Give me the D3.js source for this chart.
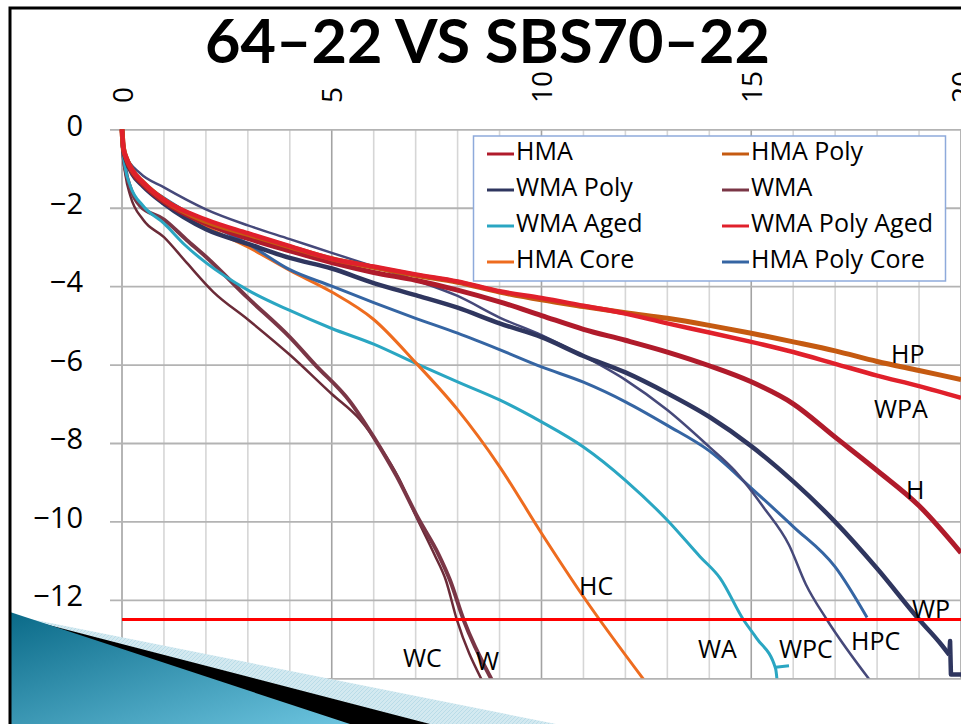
<!DOCTYPE html>
<html>
<head>
<meta charset="utf-8">
<script src="https://cdn.jsdelivr.net/npm/d3@7"></script>
<style>
  html, body { margin: 0; padding: 0; background: #fff; overflow: hidden; }
  svg { display: block; }
  text { font-family: "Open Sans", "Noto Sans", sans-serif; fill: #000; }
</style>
</head>
<body>
<div id="chart"></div>
<script>
// ---- data ----
const chartTitle = "64\u201322 VS SBS70\u201322";
const xTicks = [0, 5, 10, 15, 20];
const yTicks = [0, -2, -4, -6, -8, -10, -12, -14];
const limitLine = -12.5;

const hma = [[0,0],[0.03,-0.45],[0.1,-0.75],[0.25,-1.1],[0.5,-1.4],[1,-1.85],[2,-2.4],[3,-2.78],[4,-3.1],[5,-3.4],[6,-3.65],[7,-3.85],[8,-4.1],[9,-4.4],[10,-4.75],[11,-5.1],[12,-5.38],[13,-5.68],[14,-6.03],[15,-6.44],[16,-7.0],[17,-7.85],[18,-8.7],[19,-9.6],[20,-10.8]];
const hmaPoly = [[0,0],[0.03,-0.45],[0.1,-0.72],[0.25,-1.05],[0.5,-1.35],[1,-1.8],[2,-2.35],[3,-2.68],[4,-3.0],[5,-3.3],[6,-3.52],[7,-3.72],[8,-3.9],[9,-4.15],[10,-4.35],[11,-4.52],[12,-4.68],[13,-4.82],[14,-5.0],[15,-5.2],[16,-5.42],[17,-5.65],[18,-5.92],[19,-6.15],[20,-6.38]];
const wmaPoly = [[0,0],[0.03,-0.5],[0.1,-0.8],[0.25,-1.15],[0.5,-1.45],[1,-1.9],[2,-2.55],[3,-2.92],[4,-3.28],[5,-3.55],[6,-3.92],[7,-4.23],[8,-4.55],[9,-4.95],[10,-5.3],[11,-5.78],[12,-6.2],[13,-6.73],[14,-7.33],[15,-8.08],[16,-8.98],[17,-10.01],[18,-11.2],[19,-12.5],[19.5,-13.1],[19.72,-13.4]];
const wmaPolyTail = [[19.72,-13.4],[19.74,-13.05],[19.76,-13.9],[20,-13.9]];
const wma = [[0,0],[0.02,-0.5],[0.08,-1.0],[0.2,-1.5],[0.43,-1.95],[1,-2.3],[1.54,-2.82],[2,-3.25],[3,-4.3],[4,-5.3],[4.6,-6.0],[5.44,-6.95],[6,-7.85],[6.55,-8.85],[7.05,-9.9],[7.55,-10.85],[7.82,-11.5],[8.14,-12.5],[8.82,-14.05]];
const wmaAged = [[0,0],[0.02,-0.5],[0.08,-1.0],[0.2,-1.45],[0.5,-1.95],[1,-2.4],[1.5,-2.95],[2,-3.4],[3,-4.1],[4,-4.62],[5,-5.08],[6,-5.48],[7,-5.97],[8,-6.44],[9,-6.9],[10,-7.46],[11,-8.1],[12,-8.95],[13,-9.97],[13.78,-10.9],[14.26,-11.45],[14.81,-12.5],[15.13,-12.98],[15.58,-13.75],[15.62,-14.1]];
const wmaAgedTail = [[15.58,-13.72],[15.9,-13.68]];
const wmaPolyAged = [[0,0],[0.03,-0.45],[0.1,-0.72],[0.25,-1.05],[0.5,-1.35],[1,-1.8],[2,-2.3],[3,-2.65],[4,-2.98],[5,-3.3],[6,-3.5],[7,-3.7],[8,-3.88],[9,-4.13],[10,-4.3],[11,-4.5],[12,-4.7],[13,-4.95],[14,-5.18],[15,-5.42],[16,-5.68],[17,-5.98],[18,-6.28],[19,-6.55],[20,-6.85]];
const hmaCore = [[0,0],[0.03,-0.45],[0.1,-0.75],[0.25,-1.1],[0.5,-1.42],[1,-1.82],[2,-2.48],[3,-3.0],[4,-3.6],[5,-4.15],[6,-4.85],[7,-5.95],[8,-7.15],[9,-8.6],[10,-10.3],[11,-11.92],[12.45,-14.05]];
const hmaPolyCore = [[0,0],[0.03,-0.45],[0.1,-0.75],[0.25,-1.1],[0.5,-1.38],[1,-1.75],[2,-2.38],[3,-2.92],[4,-3.58],[5,-4.0],[6,-4.42],[7,-4.82],[8,-5.2],[9,-5.62],[10,-6.06],[11,-6.45],[12,-6.95],[13,-7.55],[14,-8.2],[15,-9.15],[16,-10.13],[17,-11.16],[17.76,-12.45]];
const wmaPolyCore = [[0,0],[0.03,-0.45],[0.11,-0.7],[0.43,-1.12],[1,-1.48],[2,-2.04],[3,-2.45],[4,-2.8],[5,-3.15],[6,-3.5],[7,-3.85],[8,-4.25],[9,-4.8],[10,-5.25],[11,-5.78],[12,-6.39],[13,-7.16],[14,-8.1],[14.6,-8.7],[15.3,-9.65],[15.9,-10.6],[16.3,-11.6],[16.8,-12.5],[17.83,-14.05]];
const wmaCore = [[0,0],[0.02,-0.6],[0.08,-1.15],[0.2,-1.7],[0.5,-2.3],[1,-2.75],[1.54,-3.4],[2.18,-4.15],[3,-4.85],[4,-5.75],[5,-6.75],[5.67,-7.4],[6.15,-8.1],[6.6,-8.9],[7.0,-9.85],[7.45,-10.85],[7.72,-11.5],[7.98,-12.5],[8.58,-14.05]];

// drawing order (bottom first)
const series = [
  {name: "WMA Core", label: "WC", values: wmaCore, color: "#6b2b38", w: 2.5, lx: 403, ly: 667},
  {name: "WMA", label: "W", values: wma, color: "#7a3646", w: 4, lx: 476, ly: 670},
  {name: "WMA Aged", label: "WA", values: wmaAged, tail: wmaAgedTail, color: "#2aa6c2", w: 3, lx: 698, ly: 658},
  {name: "HMA Core", label: "HC", values: hmaCore, color: "#ee6c1f", w: 3, lx: 579, ly: 595},
  {name: "HMA Poly Core", label: "HPC", values: hmaPolyCore, color: "#3565a3", w: 3, lx: 851, ly: 650},
  {name: "WMA Poly Core", label: "WPC", values: wmaPolyCore, color: "#46497a", w: 2.5, lx: 779, ly: 658},
  {name: "WMA Poly", label: "WP", values: wmaPoly, tail: wmaPolyTail, color: "#2f365f", w: 4.5, lx: 912, ly: 618},
  {name: "HMA", label: "H", values: hma, color: "#b01b2b", w: 5, lx: 906, ly: 499},
  {name: "HMA Poly", label: "HP", values: hmaPoly, color: "#c55a11", w: 5, lx: 891, ly: 363},
  {name: "WMA Poly Aged", label: "WPA", values: wmaPolyAged, color: "#e0202b", w: 4.5, lx: 874, ly: 418}
];
const legendOrder = ["HMA", "HMA Poly", "WMA Poly", "WMA", "WMA Aged", "WMA Poly Aged", "HMA Core", "HMA Poly Core"];

// ---- chart ----
const W = 961, H = 724;
const svg = d3.select("#chart").append("svg").attr("width", W).attr("height", H);

const x = d3.scaleLinear().domain([0, 20]).range([122, 961]);
const y = d3.scaleLinear().domain([0, -14]).range([129.3, 678.3]);

// vertical gridlines
svg.append("g").selectAll("line")
  .data(d3.range(0, 21))
  .enter().append("line")
  .attr("x1", d => x(d)).attr("x2", d => x(d))
  .attr("y1", y(0)).attr("y2", y(-14))
  .attr("stroke", d => d % 5 === 0 ? "#a3a3a3" : "#d6d6d6")
  .attr("stroke-width", 1.6);

// y axis with horizontal gridlines
const yAxis = d3.axisLeft(y)
  .tickValues(yTicks)
  .tickSize(-(W - 110))
  .tickPadding(27)
  .tickFormat(d => d === 0 ? "0" : "\u2212" + Math.abs(d));
const gy = svg.append("g").attr("transform", "translate(110,0)").call(yAxis);
gy.select(".domain").remove();
gy.selectAll(".tick line").attr("stroke", "#b3b3b3").attr("stroke-width", 1.8);
gy.selectAll(".tick text")
  .attr("dy", "0.2em")
  .style("font-family", '"Open Sans", sans-serif')
  .style("font-size", "29px")
  .attr("fill", "#000");

// x axis on top, labels rotated
const xAxis = d3.axisTop(x).tickValues(xTicks).tickSize(0).tickPadding(0);
const gx = svg.append("g").attr("transform", "translate(0,103)").call(xAxis);
gx.select(".domain").remove();
gx.selectAll(".tick text")
  .attr("transform", "rotate(-90)")
  .attr("x", 0).attr("y", 0)
  .attr("dy", "0.36em")
  .attr("text-anchor", "start")
  .style("font-family", '"Open Sans", sans-serif')
  .style("font-size", "28px")
  .attr("fill", "#000");

// clip for the plot area
svg.append("clipPath").attr("id", "plotclip")
  .append("rect").attr("x", x(0) - 3).attr("y", y(0) - 3)
  .attr("width", x(20) - x(0) + 6).attr("height", y(-14) - y(0) + 3);

const line = d3.line()
  .x(d => x(d[0])).y(d => y(d[1]))
  .curve(d3.curveMonotoneX);
const tailLine = d3.line()
  .x(d => x(d[0])).y(d => y(d[1]));

const plot = svg.append("g").attr("clip-path", "url(#plotclip)");
const sg = plot.selectAll("g.series")
  .data(series)
  .enter().append("g")
  .attr("class", "series")
  .attr("fill", "none")
  .attr("stroke", d => d.color)
  .attr("stroke-width", d => d.w)
  .attr("stroke-linejoin", "round");
sg.append("path").attr("d", d => line(d.values));
sg.filter(d => d.tail).append("path").attr("d", d => tailLine(d.tail));

// limit line
svg.append("line")
  .attr("x1", x(0)).attr("x2", W)
  .attr("y1", y(limitLine)).attr("y2", y(limitLine))
  .attr("stroke", "#ff0000").attr("stroke-width", 3);

// curve labels
svg.append("g").selectAll("text")
  .data(series)
  .enter().append("text")
  .attr("x", d => d.lx).attr("y", d => d.ly)
  .style("font-size", "25px")
  .text(d => d.label);

// legend
const legend = svg.append("g");
legend.append("rect")
  .attr("x", 473.5).attr("y", 136).attr("width", 472).attr("height", 145)
  .attr("fill", "#fff").attr("stroke", "#8eaadb").attr("stroke-width", 1.5);
const legItems = legendOrder.map(n => series.find(s => s.name === n));
const leg = legend.selectAll("g.item")
  .data(legItems)
  .enter().append("g")
  .attr("class", "item")
  .attr("transform", (d, i) => "translate(" + (i % 2 === 0 ? 487 : 722) + "," + (151 + Math.floor(i / 2) * 36) + ")");
leg.append("line")
  .attr("x1", 0).attr("x2", 27).attr("y1", 3).attr("y2", 3)
  .attr("stroke", d => d.color).attr("stroke-width", 3);
leg.append("text")
  .attr("x", 29).attr("y", 0).attr("dy", "0.35em")
  .style("font-size", "25px")
  .text(d => d.name);

// title
svg.append("text")
  .attr("x", 205).attr("y", 63)
  .attr("textLength", 565).attr("lengthAdjust", "spacingAndGlyphs")
  .style("font-family", 'Lato, "DejaVu Sans", sans-serif')
  .style("font-weight", "bold")
  .style("font-size", "62px")
  .text(chartTitle);

// slide decoration (bottom-left)
const defs = svg.append("defs");
const grad = defs.append("linearGradient").attr("id", "teal")
  .attr("x1", "0").attr("y1", "0").attr("x2", "1").attr("y2", "1");
grad.append("stop").attr("offset", "0%").attr("stop-color", "#0a6a88");
grad.append("stop").attr("offset", "100%").attr("stop-color", "#6cc4df");
const hatch = defs.append("pattern").attr("id", "hatch")
  .attr("width", 4).attr("height", 4).attr("patternUnits", "userSpaceOnUse");
hatch.append("rect").attr("width", 4).attr("height", 4).attr("fill", "#d3e9f0");
hatch.append("path").attr("d", "M0,4 L4,0").attr("stroke", "#b9dce8").attr("stroke-width", 1);

svg.append("path").attr("d", "M10,615 L556,724 L10,724 Z").attr("fill", "url(#hatch)");
svg.append("path").attr("d", "M10,615 L430,724 L10,724 Z").attr("fill", "#000");
svg.append("path").attr("d", "M10,612 L350,724 L10,724 Z").attr("fill", "url(#teal)");

// slide frame
svg.append("rect")
  .attr("x", 10).attr("y", 8).attr("width", 1000).attr("height", 800)
  .attr("fill", "none").attr("stroke", "#000").attr("stroke-width", 3);
</script>
</body>
</html>
